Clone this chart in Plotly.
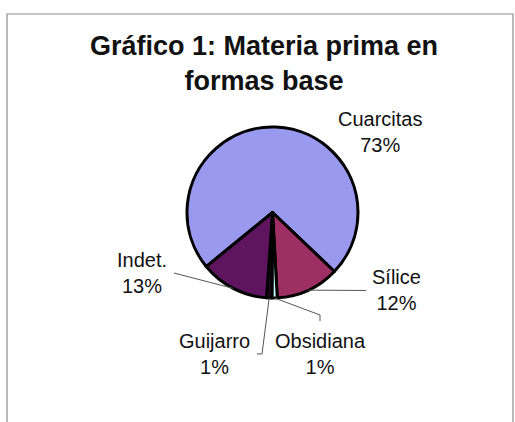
import math
import plotly.graph_objects as go

# Raw material shares of the base forms (percent)
labels = ["Cuarcitas", "Sílice", "Obsidiana", "Guijarro", "Indet."]
values = [73, 12, 1, 1, 13]
colors = ["#9999F0", "#9E2F62", "#CCFFFF", "#1E0A1E", "#5E145E"]

W, H = 515, 422
FONT = "Liberation Sans, Arial, sans-serif"

# Pie geometry (pixels)
CX, CY, R = 272.5, 212.5, 85.5
ROTATION = 230.8


def px(x):
    return x / W


def py(y):
    return 1 - y / H


# Label placement (pixel centres) and leader line elbows for each slice
label_pos = {
    "Cuarcitas": (380, 132.5),
    "Sílice": (396, 290),
    "Obsidiana": (320, 354),
    "Guijarro": (214, 354),
    "Indet.": (142, 272.5),
}
leader_path = {
    "Sílice": [(366, 290.5)],
    "Obsidiana": [(320, 315), (320, 321)],
    "Guijarro": [(262, 354), (257, 354)],
    "Indet.": [(174, 273)],
}

fig = go.Figure()
fig.add_trace(go.Pie(
    labels=labels,
    values=values,
    sort=False,
    direction="clockwise",
    rotation=ROTATION,
    marker=dict(colors=colors, line=dict(color="#000000", width=3)),
    textinfo="none",
    hoverinfo="label+percent",
    showlegend=False,
    domain=dict(x=[px(CX - R), px(CX + R)], y=[py(CY + R), py(CY - R)]),
))

total = sum(values)
shapes = []
annotations = []
start = ROTATION
for lab, val in zip(labels, values):
    span = 360 * val / total
    mid = math.radians(start + span / 2)
    start += span
    pct = round(100 * val / total)
    lx, ly = label_pos[lab]
    annotations.append(dict(
        x=px(lx), y=py(ly), xref="paper", yref="paper",
        text=f"{lab}<br>{pct}%", showarrow=False,
        xanchor="center", yanchor="middle",
        font=dict(family=FONT, size=20, color="#111111"),
    ))
    if lab in leader_path:
        sx = CX + R * math.sin(mid)
        sy = CY - R * math.cos(mid)
        pts = [(sx, sy)] + leader_path[lab]
        path = "M " + " L ".join(f"{px(a):.5f},{py(b):.5f}" for a, b in pts)
        shapes.append(dict(type="path", path=path, xref="paper", yref="paper",
                           line=dict(color="#555555", width=1)))

# Chart frame
shapes.append(dict(type="rect", xref="paper", yref="paper",
                   x0=px(7), x1=px(513), y0=py(440), y1=py(14),
                   line=dict(color="#8C8C8C", width=1.2)))

fig.update_layout(
    width=W, height=H,
    margin=dict(l=0, r=0, t=0, b=0),
    paper_bgcolor="#FFFFFF",
    plot_bgcolor="#FFFFFF",
    title=dict(
        text="<b>Gráfico 1: Materia prima en<br>formas base</b>",
        x=px(264), xanchor="center",
        y=py(55), yanchor="top",
        font=dict(family=FONT, size=27, color="#111111"),
    ),
    shapes=shapes,
    annotations=annotations,
)

fig.write_html("out.html")
